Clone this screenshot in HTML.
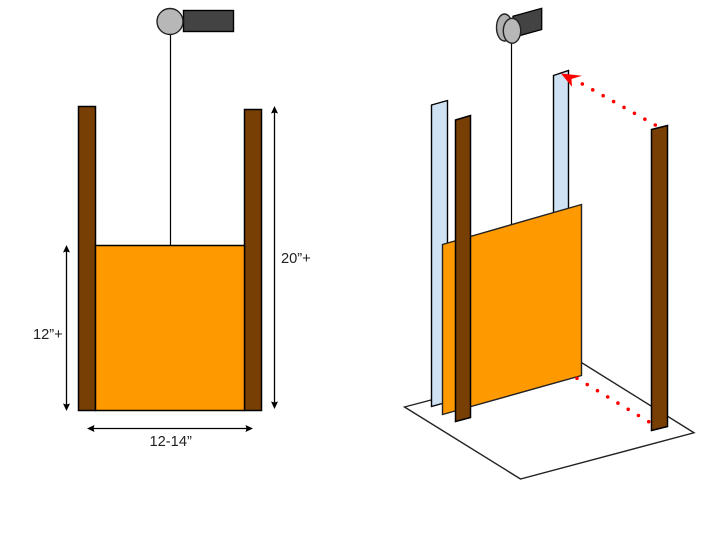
<!DOCTYPE html>
<html>
<head>
<meta charset="utf-8">
<style>
html,body{margin:0;padding:0;background:#fff;width:720px;height:540px;overflow:hidden}
svg{display:block}
text{font-family:"Liberation Sans",sans-serif;font-size:14.67px;fill:#222}
</style>
</head>
<body>
<svg width="720" height="540" viewBox="0 0 720 540" xmlns="http://www.w3.org/2000/svg">
<rect width="720" height="540" fill="#fff"/>
<!-- LEFT -->
<line x1="170.5" y1="34" x2="170.5" y2="246" stroke="#000" stroke-width="1.2"/>
<rect x="183.5" y="10.5" width="50" height="21" fill="#434343" stroke="#000" stroke-width="1.4"/>
<circle cx="170" cy="21.5" r="13" fill="#b7b7b7" stroke="#222" stroke-width="1.4"/>
<rect x="78.5" y="106.5" width="17" height="304" fill="#783f04" stroke="#000" stroke-width="1.5"/>
<rect x="244.5" y="109.5" width="17" height="301" fill="#783f04" stroke="#000" stroke-width="1.5"/>
<rect x="95.5" y="245.5" width="149" height="165" fill="#ff9900" stroke="#000" stroke-width="1.5"/>
<!-- arrows -->
<g stroke="#000" stroke-width="1.3" fill="#000">
<line x1="66.5" y1="250" x2="66.5" y2="406"/>
<path d="M66.5 245l3.5 7.5l-3.5-1l-3.5 1z" stroke="none"/>
<path d="M66.5 411l3.5-7.5l-3.5 1l-3.5-1z" stroke="none"/>
<line x1="274.5" y1="111" x2="274.5" y2="404"/>
<path d="M274.5 106l3.5 7.5l-3.5-1l-3.5 1z" stroke="none"/>
<path d="M274.5 409l3.5-7.5l-3.5 1l-3.5-1z" stroke="none"/>
<line x1="92" y1="428.5" x2="248" y2="428.5"/>
<path d="M87 428.5l7.5-3.5l-1 3.5l1 3.5z" stroke="none"/>
<path d="M253 428.5l-7.5-3.5l1 3.5l-1 3.5z" stroke="none"/>
</g>
<text x="281" y="263">20”+</text>
<text x="33" y="339">12”+</text>
<text x="149.5" y="446">12-14”</text>
<!-- RIGHT -->
<polygon points="404.5,407 579,361 694,432.8 520.5,479" fill="#fff" stroke="#222" stroke-width="1.4"/>
<polygon points="431.5,105 447.5,100.5 447.5,402 431.5,406.5" fill="#cfe2f3" stroke="#000" stroke-width="1.4"/>
<polygon points="553.5,75.5 568.5,70.5 568.5,370 553.5,374" fill="#cfe2f3" stroke="#000" stroke-width="1.4"/>
<line x1="511.5" y1="43" x2="511.5" y2="226" stroke="#000" stroke-width="1.2"/>
<polygon points="513,16.3 541.7,8.3 541.7,29.5 513,37.5" fill="#434343" stroke="#000" stroke-width="1.3"/>
<ellipse cx="504.5" cy="27.5" rx="8" ry="13.5" fill="#b0b0b0" stroke="#222" stroke-width="1.4"/>
<ellipse cx="512" cy="30.8" rx="8.7" ry="12.5" fill="#b7b7b7" stroke="#222" stroke-width="1.4"/>
<polygon points="442.5,244.5 581.5,204.5 581.5,375.5 442.5,414.5" fill="#ff9900" stroke="#222" stroke-width="1.4"/>
<!-- dotted -->
<line x1="577" y1="378.3" x2="650" y2="422.5" stroke="#ff0000" stroke-width="3.6" stroke-linecap="round" stroke-dasharray="0 11.97"/>
<line x1="655.3" y1="125" x2="582" y2="83.8" stroke="#ff0000" stroke-width="3.6" stroke-linecap="round" stroke-dasharray="0 11.96"/>
<path d="M561 73.5L582 75.7L571.5 79L572 86.7z" fill="#ff0000"/>
<polygon points="455.5,120 470.5,115.5 470.5,417.5 455.5,421.5" fill="#783f04" stroke="#000" stroke-width="1.5"/>
<polygon points="651.5,129.5 667.5,125.5 667.5,426.5 651.5,430.5" fill="#783f04" stroke="#000" stroke-width="1.5"/>
</svg>
</body>
</html>
